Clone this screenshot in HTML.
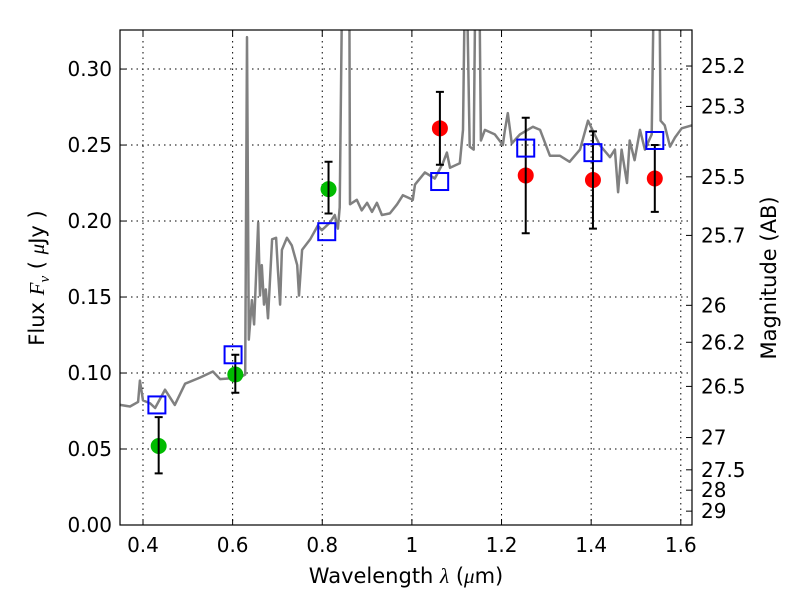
<!DOCTYPE html>
<html><head><meta charset="utf-8"><style>
body{margin:0;background:#fff;}
svg text{font-family:"DejaVu Sans","Liberation Sans",sans-serif;}
</style></head><body>
<svg id="chart" width="800" height="600" xmlns="http://www.w3.org/2000/svg">
<rect width="800" height="600" fill="#fff"/>
<defs><clipPath id="pc"><rect x="120" y="30" width="572" height="495"/></clipPath></defs>
<g id="grid"></g>
<g id="spec" clip-path="url(#pc)"></g>
<g id="marks"></g>
<rect x="120" y="30" width="572" height="495" fill="none" stroke="#000" stroke-width="1.2"/>
<g id="axes"></g>
<text x="406" y="583" font-size="21" text-anchor="middle">Wavelength  <tspan font-style="italic" font-family="Liberation Serif,serif">λ</tspan> (<tspan font-style="italic" font-family="Liberation Serif,serif">μ</tspan>m)</text>
<text transform="translate(44,278) rotate(-90)" font-size="21" text-anchor="middle">Flux  <tspan font-style="italic" font-family="Liberation Serif,serif">F</tspan><tspan font-style="italic" font-family="Liberation Serif,serif" font-size="15" dy="5">ν</tspan><tspan dy="-5">  ( </tspan><tspan font-style="italic" font-family="Liberation Serif,serif">μ</tspan>Jy )</text>
<text transform="translate(776,278) rotate(-90)" font-size="21" text-anchor="middle">Magnitude (AB)</text>
</svg>
<script>
const specLam=[0.349,0.371,0.389,0.393,0.400,0.416,0.427,0.449,0.471,0.494,0.527,0.556,0.572,0.616,0.628,0.632,0.636,0.643,0.648,0.657,0.661,0.665,0.670,0.674,0.679,0.688,0.697,0.701,0.706,0.710,0.721,0.732,0.744,0.748,0.755,0.773,0.790,0.799,0.817,0.828,0.835,0.839,0.846,0.860,0.862,0.877,0.888,0.900,0.911,0.922,0.933,0.951,0.967,0.980,1.002,1.007,1.029,1.051,1.069,1.078,1.085,1.107,1.114,1.120,1.129,1.138,1.143,1.149,1.154,1.163,1.185,1.203,1.207,1.214,1.223,1.241,1.270,1.286,1.308,1.330,1.352,1.375,1.393,1.419,1.442,1.453,1.460,1.468,1.480,1.486,1.497,1.509,1.520,1.535,1.542,1.551,1.555,1.564,1.576,1.587,1.602,1.625];
const specFlux=[0.079,0.078,0.081,0.095,0.082,0.080,0.077,0.089,0.079,0.093,0.097,0.101,0.096,0.097,0.099,0.321,0.122,0.148,0.132,0.199,0.151,0.171,0.145,0.155,0.136,0.188,0.189,0.168,0.145,0.181,0.189,0.184,0.171,0.151,0.181,0.188,0.197,0.194,0.199,0.204,0.195,0.209,0.4,0.4,0.211,0.214,0.207,0.212,0.206,0.212,0.204,0.205,0.211,0.217,0.214,0.224,0.232,0.228,0.238,0.245,0.235,0.238,0.260,0.4,0.249,0.247,0.4,0.4,0.253,0.260,0.257,0.250,0.259,0.271,0.251,0.257,0.262,0.260,0.243,0.243,0.239,0.247,0.266,0.250,0.242,0.247,0.219,0.247,0.225,0.253,0.240,0.260,0.247,0.257,0.4,0.4,0.266,0.263,0.249,0.255,0.261,0.263];
const greenLam=[0.435,0.606,0.814];
const greenFlux=[0.052,0.099,0.221];
const greenLo=[0.034,0.087,0.205];
const greenHi=[0.071,0.112,0.239];
const redLam=[1.0625,1.254,1.404,1.542];
const redFlux=[0.261,0.230,0.227,0.228];
const redLo=[0.237,0.192,0.195,0.206];
const redHi=[0.285,0.268,0.259,0.250];
const sqLam=[0.431,0.601,0.810,1.062,1.254,1.404,1.542];
const sqFlux=[0.079,0.112,0.193,0.226,0.248,0.245,0.253];
const xTicks=[0.4,0.6,0.8,1.0,1.2,1.4,1.6];
const xTickLabels=["0.4","0.6","0.8","1","1.2","1.4","1.6"];
const yTicks=[0,0.05,0.1,0.15,0.2,0.25,0.3];
const yTickLabels=["0.00","0.05","0.10","0.15","0.20","0.25","0.30"];
const magTicks=[25.2,25.3,25.5,25.7,26,26.2,26.5,27,27.5,28,29];

const X0=120,X1=692,Y0=525,Y1=30,LMIN=0.3487,LMAX=1.625,FMAX=0.3257;
const sx=l=>X0+(l-LMIN)/(LMAX-LMIN)*(X1-X0);
const sy=f=>Y0-f/FMAX*(Y0-Y1);
const NS="http://www.w3.org/2000/svg";
function mk(tag,attrs,parent){const e=document.createElementNS(NS,tag);for(const k in attrs)e.setAttribute(k,attrs[k]);document.getElementById(parent).appendChild(e);return e;}

xTicks.forEach((t,i)=>{const x=sx(t);
 const g=mk('line',{x1:x,x2:x,y1:Y1,y2:Y0,stroke:'#000','stroke-dasharray':'1.5,4','stroke-width':1},'grid');
 
 
 mk('line',{x1:x,x2:x,y1:Y0,y2:Y0-6,stroke:'#000'},'axes');
 mk('line',{x1:x,x2:x,y1:Y1,y2:Y1+6,stroke:'#000'},'axes');
 const tx=mk('text',{x:x,y:Y0+27,'font-size':20,'text-anchor':'middle'},'axes');tx.textContent=xTickLabels[i];
 
 
});
yTicks.forEach((t,i)=>{const y=sy(t);
 const g=mk('line',{x1:X0,x2:X1,y1:y,y2:y,stroke:'#000','stroke-dasharray':'1.5,4','stroke-width':1},'grid');
 
 
 mk('line',{x1:X0,x2:X0+6,y1:y,y2:y,stroke:'#000'},'axes');
 const tx=mk('text',{x:X0-8,y:y+7,'font-size':20,'text-anchor':'end'},'axes');tx.textContent=yTickLabels[i];
 
 
});
magTicks.forEach(m=>{const f=Math.pow(10,(23.9-m)/2.5);const y=sy(f);
 mk('line',{x1:X1-6,x2:X1,y1:y,y2:y,stroke:'#000'},'axes');
 const tx=mk('text',{x:X1+9,y:y+7,'font-size':20},'axes');tx.textContent=String(m);
 
 
});
const pts=specLam.map((l,i)=>sx(l).toFixed(1)+','+sy(specFlux[i]).toFixed(1)).join(' ');
const sp=mk('polyline',{points:pts,fill:'none',stroke:'#808080','stroke-width':2.5,'stroke-linejoin':'round'},'spec');


function errbar(l,lo,hi){const x=sx(l);
 const e=mk('path',{d:`M${x},${sy(lo)}V${sy(hi)}M${x-4},${sy(lo)}h8M${x-4},${sy(hi)}h8`,stroke:'#000','stroke-width':2,fill:'none'},'marks');
 
 }
greenLam.forEach((l,i)=>{
 const c=mk('circle',{cx:sx(l),cy:sy(greenFlux[i]),r:8,fill:'#00bb00'},'marks');
 
 
 errbar(l,greenLo[i],greenHi[i]);});
redLam.forEach((l,i)=>{
 const c=mk('circle',{cx:sx(l),cy:sy(redFlux[i]),r:8,fill:'#ff0000'},'marks');
 
 
 errbar(l,redLo[i],redHi[i]);});
sqLam.forEach((l,i)=>{
 const s=mk('rect',{x:sx(l)-8.5,y:sy(sqFlux[i])-8.5,width:17,height:17,fill:'none',stroke:'#0000ff','stroke-width':2},'marks');
 
 });
</script>
</body></html>
